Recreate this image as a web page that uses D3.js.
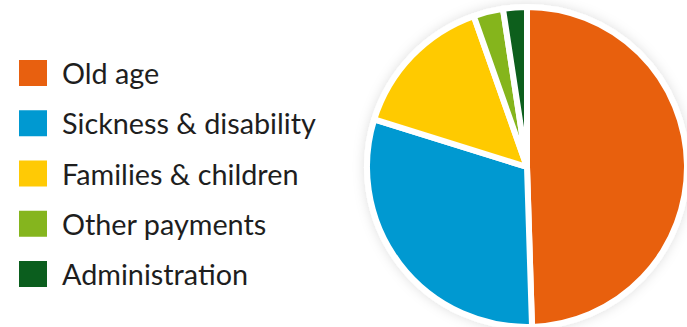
<!DOCTYPE html>
<html>
<head>
<meta charset="utf-8">
<script src="https://cdn.jsdelivr.net/npm/d3@7"></script>
<style>
  html, body { margin: 0; padding: 0; background: #fff; }
  svg { display: block; }
</style>
</head>
<body>
<div id="chart"></div>
<script>
const categories = ["Old age", "Sickness & disability", "Families & children", "Other payments", "Administration"];
const shares = [49.5, 30.3, 14.8, 3.0, 2.4];
const colours = ["#e8600f", "#0099d1", "#ffca05", "#85b51e", "#0b5e1e"];

const W = 687, H = 327;
const pieCenter = {x: 527, y: 167};
const radius = 160;

const svg = d3.select("#chart")
    .append("svg")
    .attr("width", W)
    .attr("height", H);

// soft grey shadow round the pie
const defs = svg.append("defs");
const shadow = defs.append("filter")
    .attr("id", "pieShadow")
    .attr("x", "-20%").attr("y", "-20%")
    .attr("width", "140%").attr("height", "140%");
shadow.append("feGaussianBlur").attr("in", "SourceAlpha").attr("stdDeviation", 6).attr("result", "blur");
shadow.append("feFlood").attr("flood-color", "#000").attr("flood-opacity", 0.13);
shadow.append("feComposite").attr("in2", "blur").attr("operator", "in").attr("result", "shadow");
const merge = shadow.append("feMerge");
merge.append("feMergeNode").attr("in", "shadow");
merge.append("feMergeNode").attr("in", "SourceGraphic");

const color = d3.scaleOrdinal().domain(categories).range(colours);

const pie = d3.pie()
    .sort(null)
    .value((d, i) => shares[i]);

const arc = d3.arc()
    .innerRadius(0)
    .outerRadius(radius);

const pieG = svg.append("g")
    .attr("transform", "translate(" + pieCenter.x + "," + pieCenter.y + ")")
    .attr("filter", "url(#pieShadow)");

pieG.selectAll("path")
    .data(pie(categories))
    .enter()
    .append("path")
    .attr("d", arc)
    .style("fill", d => color(d.data))
    .style("stroke", "#fff")
    .style("stroke-width", 6)
    .style("stroke-linejoin", "round");

// legend
const legendX = 19, legendTop = 60, rowGap = 50.25;
const legend = svg.append("g");

const rows = legend.selectAll(".row")
    .data(categories)
    .enter()
    .append("g")
    .attr("class", "row")
    .attr("transform", (d, i) => "translate(" + legendX + "," + (legendTop + i * rowGap) + ")");

rows.append("rect")
    .attr("width", 28)
    .attr("height", 26)
    .style("fill", d => color(d));

const labels = rows.append("text")
    .attr("x", 43)
    .attr("y", 13)
    .attr("dominant-baseline", "central")
    .style("font-family", "Lato, 'Open Sans', sans-serif")
    .style("font-size", "24px")
    .style("fill", "#1e1e1e")
    .text(d => d);

// fit the longest label to its width in the picture
const longest = labels.filter(d => d === "Sickness & disability").node();
const w = longest.getComputedTextLength();
labels.style("font-size", (24 * 254 / w) + "px");
</script>
</body>
</html>
